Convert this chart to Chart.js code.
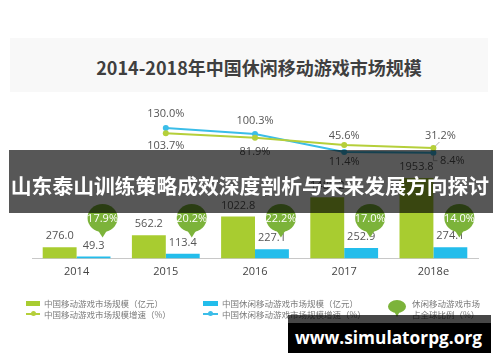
<!DOCTYPE html>
<html><head><meta charset="utf-8">
<script src="https://cdn.jsdelivr.net/npm/chart.js@4/dist/chart.umd.min.js"></script>
<style>
html,body{margin:0;padding:0;background:#fff;}
#wrap{position:relative;width:500px;height:362px;overflow:hidden;font-family:"Noto Sans CJK SC","Noto Sans",sans-serif;}
#panel{position:absolute;left:10px;top:38px;width:478px;height:54px;background:#f8f8f8;}
#title{position:absolute;left:0;width:518px;top:54px;text-align:center;font-weight:bold;font-size:18px;color:#3f3f3f;line-height:26px;white-space:nowrap;}
canvas{position:absolute;left:0;top:0;}
.abs{position:absolute;}
.lt{position:absolute;font-size:8.5px;line-height:11px;color:#7a7a7a;white-space:nowrap;}
#banner{position:absolute;left:9px;top:150px;width:484px;height:63px;background:rgba(0,0,0,0.66);}
#btext{position:absolute;left:0;width:500px;top:172px;text-align:center;font-weight:bold;font-size:20.8px;line-height:26px;color:#fff;white-space:nowrap;}
#wm1{position:absolute;left:288px;top:315px;width:203px;height:8px;background:rgba(0,0,0,0.72);}
#wm2{position:absolute;left:288px;top:323px;width:203px;height:30px;background:#000;}
#wmt{position:absolute;left:288px;width:201px;top:326px;text-align:center;font-family:"Open Sans","Noto Sans",sans-serif;font-weight:bold;font-size:17.3px;line-height:24px;color:#fff;white-space:nowrap;}
</style></head>
<body>
<div id="wrap">
  <div id="panel"></div>
  <div id="title">2014-2018年中国休闲移动游戏市场规模</div>
  <canvas id="c" width="500" height="362"></canvas>

  <!-- legend -->
  <div class="abs" style="left:26px;top:301px;width:14px;height:5px;background:#a8cc30"></div>
  <div class="lt" style="left:44px;top:297.5px">中国移动游戏市场规模（亿元）</div>
  <div class="abs" style="left:26px;top:313px;width:14px;height:1.5px;background:#b5cf3a"></div>
  <div class="abs" style="left:31px;top:311.2px;width:5px;height:5px;border-radius:50%;background:#b5cf3a"></div>
  <div class="lt" style="left:44px;top:308.5px">中国移动游戏市场规模增速（%）</div>

  <div class="abs" style="left:203px;top:301px;width:15px;height:5px;background:#23bdeb"></div>
  <div class="lt" style="left:222px;top:297.5px">中国休闲移动游戏市场规模（亿元）</div>
  <div class="abs" style="left:203px;top:313px;width:15px;height:1.5px;background:#3bbde8"></div>
  <div class="abs" style="left:208px;top:311.2px;width:5px;height:5px;border-radius:50%;background:#3bbde8"></div>
  <div class="lt" style="left:222px;top:308.5px">中国休闲移动游戏市场规模增速（%）</div>

  <div class="abs" style="left:388px;top:300px;width:18px;height:13px;border-radius:50%;background:#7cb33a"></div>
  <div class="abs" style="left:394px;top:311px;width:0;height:0;border-left:3px solid transparent;border-right:3px solid transparent;border-top:6px solid #7cb33a"></div>
  <div class="lt" style="left:412px;top:297.5px">休闲移动游戏市场</div>
  <div class="lt" style="left:412px;top:308.5px">占全球比例（%）</div>

  <div id="banner"></div>
  <div id="btext">山东泰山训练策略成效深度剖析与未来发展方向探讨</div>

  <div id="wm1"></div>
  <div id="wm2"></div>
  <div id="wmt">www.simulatorpg.org</div>
</div>
<script>
// ---- data ----
const categories   = ['2014', '2015', '2016', '2017', '2018e'];
const mobileMarket = [276.0, 562.2, 1022.8, 1489.2, 1953.8];   // 中国移动游戏市场规模（亿元）
const casualMarket = [49.3, 113.4, 227.1, 252.9, 274.1];       // 中国休闲移动游戏市场规模（亿元）
const mobileGrowth = [null, 103.7, 81.9, 45.6, 31.2];          // 中国移动游戏市场规模增速（%）
const casualGrowth = [null, 130.0, 100.3, 11.4, 8.4];          // 中国休闲移动游戏市场规模增速（%）
const globalShare  = [17.9, 20.2, 22.2, 17.0, 14.0];           // 休闲移动游戏市场占全球比例（%）

// ---- style ----
const GREEN = '#a8cc30', BLUE = '#23bdeb', LGREEN = '#b5cf3a', LBLUE = '#3bbde8', BALLOON = '#7cb33a';
const LABEL_FONT = '11px "Open Sans","Noto Sans",sans-serif';
const mobileLabelOffset = [null, [0, 13], [0, 14], [0, -9], [7, -12]];
const casualLabelOffset = [null, [0, -14], [0, -13], [0, 10], [19, 8]];
const BALLOON_Y = 218;

const labelPlugin = {
  id: 'labels',
  afterDatasetsDraw(chart) {
    const ctx = chart.ctx;
    ctx.save();
    ctx.font = LABEL_FONT;
    ctx.textAlign = 'center';
    ctx.textBaseline = 'middle';
    // bar value labels
    [0, 1].forEach(di => {
      const meta = chart.getDatasetMeta(di);
      const data = chart.data.datasets[di].data;
      ctx.fillStyle = '#555';
      meta.data.forEach((el, i) => ctx.fillText(data[i].toFixed(1), el.x, el.y - 11));
    });
    // balloons
    chart.getDatasetMeta(1).data.forEach((el, i) => {
      const cx = el.x + 9, cy = BALLOON_Y;
      ctx.fillStyle = BALLOON;
      ctx.beginPath();
      ctx.ellipse(cx, cy, 15, 14, 0, 0, Math.PI * 2);
      ctx.fill();
      ctx.beginPath();
      ctx.moveTo(cx - 6, cy + 10);
      ctx.lineTo(cx, cy + 19.5);
      ctx.lineTo(cx + 6, cy + 10);
      ctx.closePath();
      ctx.fill();
      ctx.fillStyle = '#fff';
      ctx.fillText(globalShare[i].toFixed(1) + '%', cx, cy + 1);
    });
    // line labels
    const lines = [[2, mobileGrowth, mobileLabelOffset], [3, casualGrowth, casualLabelOffset]];
    lines.forEach(([di, data, off]) => {
      const meta = chart.getDatasetMeta(di);
      meta.data.forEach((el, i) => {
        if (data[i] == null) return;
        ctx.fillStyle = '#555';
        ctx.fillText(data[i].toFixed(1) + '%', el.x + off[i][0], el.y + off[i][1]);
      });
    });
    // leader lines for 2018e
    ctx.strokeStyle = '#999';
    ctx.lineWidth = 0.8;
    const g = chart.getDatasetMeta(2).data[4];
    ctx.beginPath(); ctx.moveTo(g.x + 2, g.y - 2); ctx.lineTo(g.x + 6, g.y - 6); ctx.stroke();
    const b = chart.getDatasetMeta(3).data[4];
    ctx.beginPath(); ctx.moveTo(b.x, b.y + 2); ctx.lineTo(b.x, b.y + 8); ctx.lineTo(b.x + 4, b.y + 8); ctx.stroke();
    ctx.restore();
  }
};

new Chart(document.getElementById('c'), {
  data: {
    labels: categories,
    datasets: [
      { type: 'bar', label: '中国移动游戏市场规模（亿元）', data: mobileMarket, backgroundColor: GREEN, yAxisID: 'y', categoryPercentage: 0.76, barPercentage: 1.0, order: 3 },
      { type: 'bar', label: '中国休闲移动游戏市场规模（亿元）', data: casualMarket, backgroundColor: BLUE, yAxisID: 'y', categoryPercentage: 0.76, barPercentage: 1.0, order: 3 },
      { type: 'line', label: '中国移动游戏市场规模增速（%）', data: mobileGrowth, borderColor: LGREEN, backgroundColor: LGREEN, borderWidth: 2, pointRadius: 3, pointBorderWidth: 0, yAxisID: 'y2', order: 1 },
      { type: 'line', label: '中国休闲移动游戏市场规模增速（%）', data: casualGrowth, borderColor: LBLUE, backgroundColor: LBLUE, borderWidth: 2, pointRadius: 3, pointBorderWidth: 0, yAxisID: 'y2', order: 1 }
    ]
  },
  options: {
    responsive: false,
    animation: false,
    devicePixelRatio: 1,
    layout: { padding: { left: 32, right: 22, top: 100, bottom: 76.3 } },
    plugins: { legend: { display: false }, tooltip: { enabled: false }, title: { display: false } },
    scales: {
      x: {
        grid: { display: false, drawTicks: false },
        border: { display: true, color: '#c8c8c8', width: 1 },
        ticks: { padding: 7, color: '#444', font: { size: 11, family: '"Open Sans","Noto Sans",sans-serif' } }
      },
      y: { display: false, min: 0, max: 3849 },
      y2: { display: false, min: -510.3, max: 266.7 }
    }
  },
  plugins: [labelPlugin]
});
</script>
</body></html>
